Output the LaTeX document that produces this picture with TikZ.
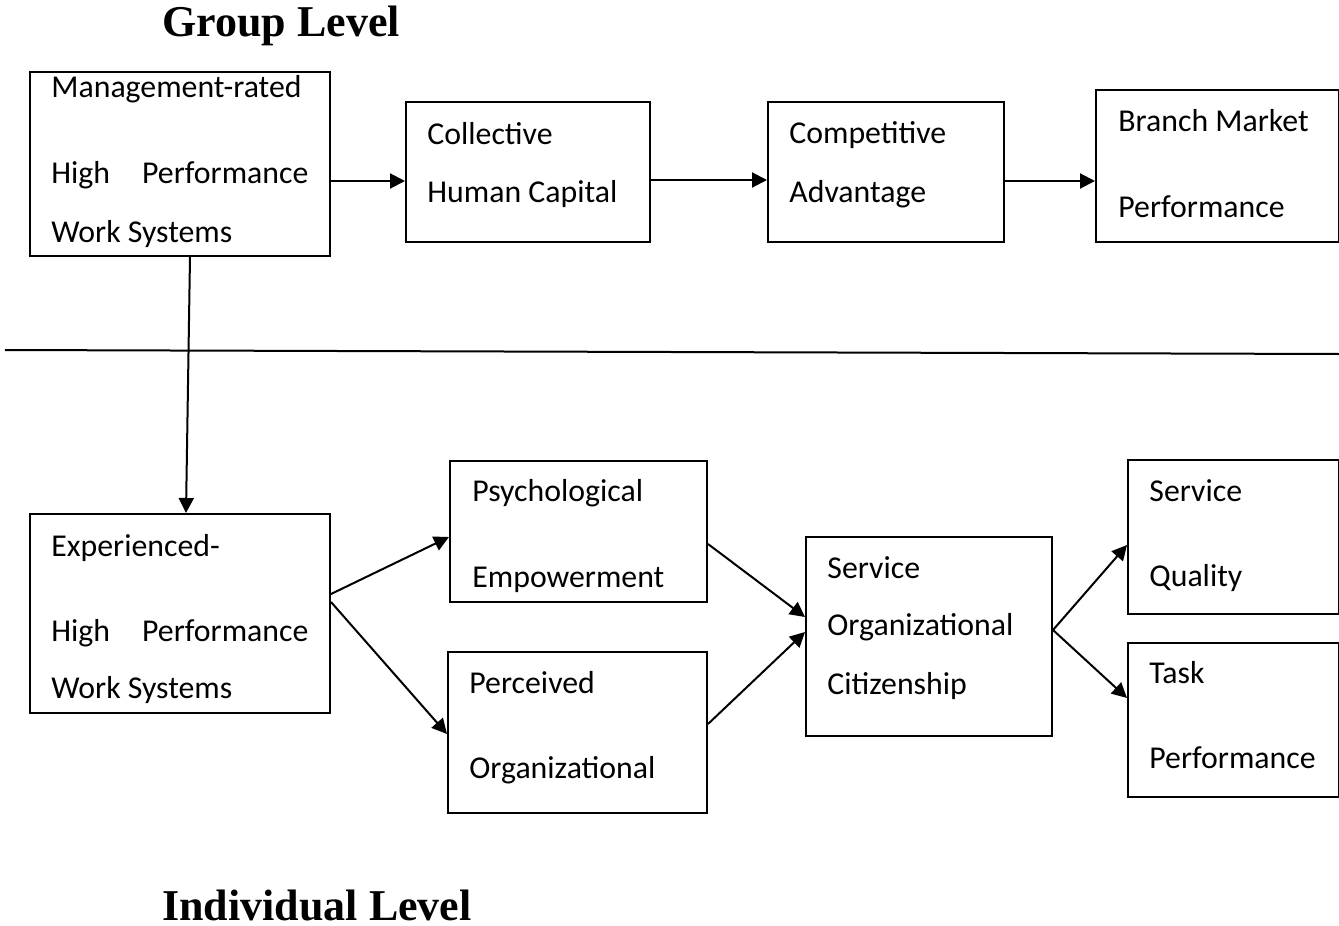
\documentclass[tikz,border=0pt]{standalone}
\usepackage{fontspec}
\setmainfont{Carlito}
\newfontfamily\headfont{Liberation Serif}
\usetikzlibrary{arrows.meta,fit}
\tikzset{
  box/.style={draw, line width=1pt, inner sep=0pt},
  txt/.style={anchor=base west, inner sep=0pt, font=\fontsize{15.9}{19}\selectfont},
  head/.style={anchor=base west, inner sep=0pt, font=\headfont\bfseries\fontsize{22}{26}\selectfont},
  link/.style={->, line width=1pt}
}
\newcommand{\hpline}{\makebox[128.5pt][s]{High Performance}}
\begin{document}
\begin{tikzpicture}[x=0.5pt, y=-0.5pt, line join=miter, >={Triangle[length=7.5pt,width=7.5pt]}]
\useasboundingbox (0,0) rectangle (1339,926);
% titles
\node[head] (grp) at (162,36) {Group Level};
\node[head] (ind) at (162,920) {Individual Level};
% group level boxes
\node[box, fit={(30,72) (330,256)}] (mgmt) {};
\node[box, fit={(406,102) (650,242)}] (hcap) {};
\node[box, fit={(768,102) (1004,242)}] (comp) {};
\node[box, fit={(1096,90) (1339,242)}] (bmp) {};
% individual level boxes
\node[box, fit={(30,514) (330,713)}] (exp) {};
\node[box, fit={(450,461) (707,602)}] (psy) {};
\node[box, fit={(448,652) (707,813)}] (poc) {};
\node[box, fit={(806,537) (1052,736)}] (soc) {};
\node[box, fit={(1128,460) (1339,614)}] (sq) {};
\node[box, fit={(1128,643) (1339,797)}] (tp) {};
% box texts
\foreach \x/\y/\t [count=\i] in {51/97/Management-rated, 51/183/\hpline, 51/242/Work Systems,
  427/144/Collective, 427/202/Human Capital, 789/143/Competitive, 789/202/Advantage,
  1118/131/Branch Market, 1118/217/Performance,
  51/556/Experienced-, 51/641/\hpline, 51/698/Work Systems,
  472/501/Psychological, 472/587/Empowerment, 469/693/Perceived, 469/778/Organizational,
  827/578/Service, 827/635/Organizational, 827/694/Citizenship,
  1149/501/Service, 1149/586/Quality, 1149/683/Task, 1149/768/Performance}
  {\node[txt] (t\i) at (\x,\y) {\t};}
% divider
\coordinate (divL) at (5,350);
\coordinate (divR) at (1339,354);
\draw[line width=1pt] (divL) -- (divR);
% links
\draw[link] (mgmt.east |- 0,181) -- (hcap.west |- 0,181);
\draw[link] (hcap.east |- 0,180) -- (comp.west |- 0,180);
\draw[link] (comp.east |- 0,181) -- (bmp.west |- 0,181);
\draw[link] (mgmt.south -| 190,0) -- (exp.north -| 186,0);
\draw[link] (exp.east |- 0,594) -- (psy.west |- 0,537);
\draw[link] (exp.east |- 0,602) -- (poc.west |- 0,734);
\draw[link] (psy.east |- 0,544) -- (soc.west |- 0,617);
\draw[link] (poc.east |- 0,724) -- (soc.west |- 0,632);
\draw[link] (soc.east |- 0,630) -- (sq.west |- 0,545);
\draw[link] (soc.east |- 0,630) -- (tp.west |- 0,698);
\end{tikzpicture}
\end{document}
